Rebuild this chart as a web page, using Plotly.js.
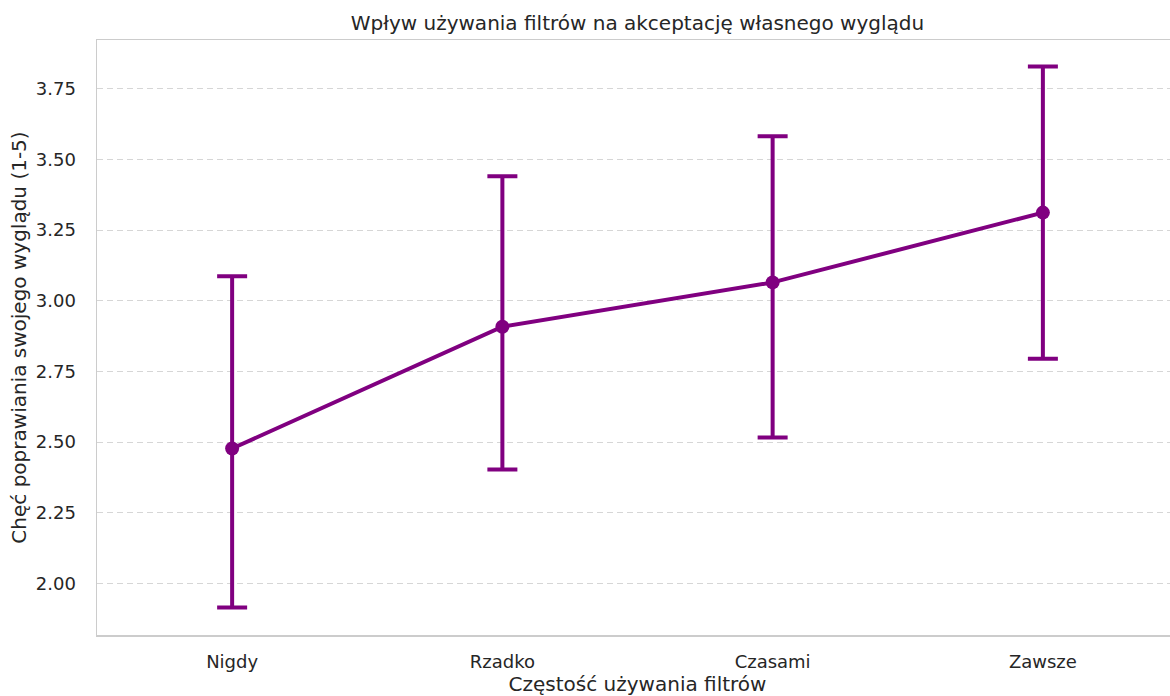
<!DOCTYPE html>
<html>
<head>
<meta charset="utf-8">
<script src="https://cdn.plot.ly/plotly-3.0.1.min.js"></script>
<style>
  html, body { margin: 0; padding: 0; overflow: hidden; background: #ffffff; }
  #chart { width: 1178px; height: 696px; }
</style>
</head>
<body>
<div id="chart"></div>
<script>
// Filter-use frequency groups
const categories = ['Nigdy', 'Rzadko', 'Czasami', 'Zawsze'];
// Mean willingness to improve one's appearance (1-5 scale)
const means = [2.477, 2.908, 3.065, 3.312];
// Upper and lower ends of the error bars
const upper = [3.087, 3.441, 3.582, 3.829];
const lower = [1.914, 2.403, 2.516, 2.795];
// Y axis ticks
const yTicks = [2.00, 2.25, 2.50, 2.75, 3.00, 3.25, 3.50, 3.75];
const yTickLabels = ['2.00', '2.25', '2.50', '2.75', '3.00', '3.25', '3.50', '3.75'];

const purple = '#800080';
const textColor = '#262626';
const fontFamily = '"DejaVu Sans", "Liberation Sans", sans-serif';

const trace = {
  type: 'scatter',
  mode: 'lines+markers',
  x: categories,
  y: means,
  line: { color: purple, width: 4 },
  marker: { color: purple, size: 14 },
  error_y: {
    type: 'data',
    symmetric: false,
    array: upper.map((u, i) => u - means[i]),
    arrayminus: means.map((m, i) => m - lower[i]),
    color: purple,
    thickness: 4,
    width: 15
  },
  hoverinfo: 'skip'
};

const layout = {
  width: 1178,
  height: 696,
  margin: { l: 97, r: 0, t: 40, b: 61 },
  paper_bgcolor: '#ffffff',
  plot_bgcolor: '#ffffff',
  showlegend: false,
  font: { family: fontFamily, color: textColor, size: 18 },
  title: {
    text: 'Wpływ używania filtrów na akceptację własnego wyglądu',
    font: { family: fontFamily, size: 20, color: textColor },
    x: 0.5, xanchor: 'center', xref: 'paper',
    y: 1, yref: 'paper', yanchor: 'bottom', pad: { b: 10 }
  },
  xaxis: {
    type: 'category',
    range: [-0.5, 3.5],
    showgrid: false,
    zeroline: false,
    showline: true,
    linecolor: '#cccccc',
    linewidth: 1.5,
    mirror: true,
    ticks: '',
    ticklabelstandoff: 10,
    tickfont: { family: fontFamily, size: 18, color: textColor },
    title: {
      text: 'Częstość używania filtrów',
      font: { family: fontFamily, size: 20, color: textColor },
      standoff: 6
    }
  },
  yaxis: {
    range: [1.817, 3.923],
    tickvals: yTicks,
    ticktext: yTickLabels,
    showgrid: true,
    gridcolor: '#d6d6d6',
    gridwidth: 1,
    griddash: '6px,4px',
    zeroline: false,
    showline: true,
    linecolor: '#cccccc',
    linewidth: 1.5,
    ticks: '',
    ticklabelstandoff: 16,
    tickfont: { family: fontFamily, size: 18, color: textColor },
    title: {
      text: 'Chęć poprawiania swojego wyglądu (1-5)',
      font: { family: fontFamily, size: 20, color: textColor },
      standoff: 4
    }
  }
};

Plotly.newPlot('chart', [trace], layout, { staticPlot: true, displayModeBar: false });
</script>
</body>
</html>
